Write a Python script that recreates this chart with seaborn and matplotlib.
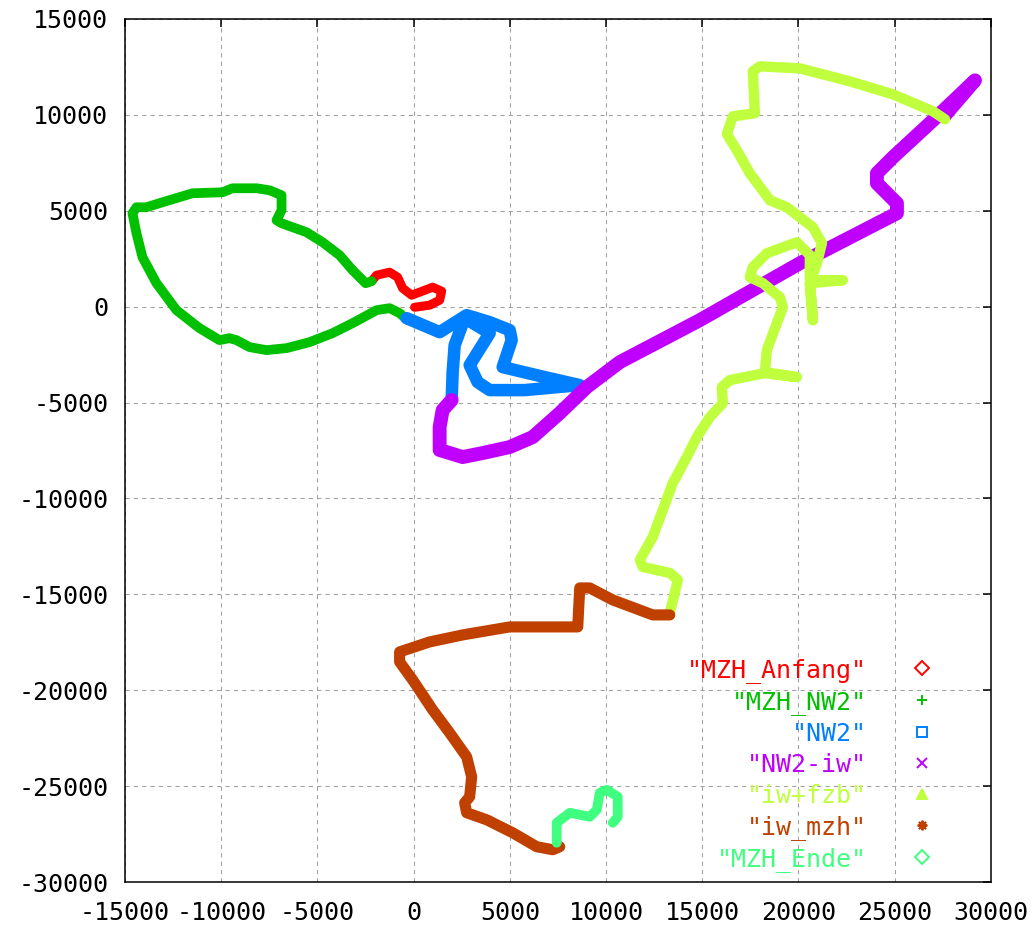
# Fahrtstrecke MZH -> NW2 -> iw -> fzb -> MZH, im Stil eines gnuplot-Plots
import numpy as np
import pandas as pd
import matplotlib
matplotlib.use("Agg")
import matplotlib.pyplot as plt
from matplotlib.lines import Line2D
import seaborn as sns

# Streckenabschnitte (x, y)
mzh_anfang_x = [50, 832, 1352, 1456, 988, 312, -104, -572, -832, -1248, -1924, -2184]
mzh_anfang_y = [-30, 78, 339, 808, 1016, 755, 599, 964, 1537, 1797, 1641, 1329]

mzh_nw2_x = [-2184, -2496, -3172, -3848, -4732, -5564, -6864, -7124, -6864, -6864,
             -7488, -8164, -9412, -9932, -11492, -13052, -13884, -14404, -14612,
             -14404, -14092, -13364, -12324, -11128, -10088, -9568, -9204, -8528,
             -7644, -6604, -5408, -4212, -3172, -1924, -1248, -728, -312]
mzh_nw2_y = [1329, 1224, 1902, 2683, 3360, 3881, 4350, 4507, 5028, 5809,
             6070, 6174, 6174, 5965, 5913, 5444, 5184, 5184, 4871,
             3829, 2579, 1224, -182, -1120, -1745, -1641, -1745, -2110,
             -2266, -2162, -1850, -1381, -860, -182, -78, -339, -703]

nw2_x = [-364, 1352, 2756, 3952, 4992, 5096, 4628, 6812, 8632, 5772,
         3952, 3328, 2912, 3952, 2652, 2132, 2028, 1976]
nw2_y = [-599, -1329, -443, -808, -1224, -1745, -3152, -3673, -4090, -4350,
         -4350, -3934, -3048, -1381, -599, -2006, -3412, -4871]

nw2_iw_x = [1976, 1508, 1352, 1352, 1872, 2548, 3588, 4992, 6188, 7592, 8996,
            10712, 14872, 20072, 25116, 25116, 24076, 24076, 24908, 26988,
            29172, 27612]
nw2_iw_y = [-4871, -5392, -6278, -7476, -7632, -7841, -7632, -7320, -6799,
            -5549, -4194, -2892, -703, 2266, 4871, 5392, 6434, 6955, 7789,
            9716, 11800, 9977]

iw_fzb_x = [27612, 26988, 24908, 22672, 20072, 17992, 17628, 17732, 16588,
            16276, 16796, 17472, 18512, 19396, 20748, 21216, 20956, 20592,
            20748, 20592, 22308, 20592, 20592, 19916, 18356, 17628, 17472,
            18148, 19032, 19188, 18876, 18356, 18252, 19916, 18252, 16432,
            16016, 16068, 15392, 14716, 14196, 13468, 12948, 12428, 11752,
            11908, 13312, 13728, 13572, 13312]
iw_fzb_y = [9769, 10186, 11071, 11749, 12426, 12530, 12270, 10082, 9925,
            9003, 8154, 6955, 5549, 5184, 4142, 3308, 2266, 1224,
            -703, 1224, 1381, 1381, 2683, 3360, 2787, 2058, 1537,
            1224, 495, -26, -860, -2266, -3412, -3673, -3465, -3829,
            -4194, -5028, -5757, -6799, -7841, -9195, -10602, -12009, -13207,
            -13572, -13884, -14249, -14926, -15968]

iw_mzh_x = [13312, 12428, 10348, 9152, 8632, 8528, 6916, 4992, 2548, 832,
            -728, -728, -52, 988, 1872, 2756, 3016, 2912, 2652, 2756, 3796,
            5148, 6396, 7228, 7592]
iw_mzh_y = [-16073, -16073, -15291, -14666, -14666, -16698, -16698, -16698,
            -17115, -17480, -18001, -18522, -19460, -21023, -22221, -23472,
            -24514, -25556, -25868, -26389, -26754, -27431, -28160, -28316,
            -28160]

mzh_ende_x = [7436, 7436, 8112, 9152, 9516, 9672, 10036, 10608, 10608, 10348]
mzh_ende_y = [-27952, -26910, -26389, -26597, -26233, -25348, -25191, -25556,
              -26597, -26910]

namen = ['"MZH_Anfang"', '"MZH_NW2"', '"NW2"', '"NW2-iw"', '"iw+fzb"',
         '"iw_mzh"', '"MZH_Ende"']
farben = ["#ff0000", "#00c000", "#0080ff", "#c000ff", "#c0ff3e", "#c04000",
          "#40ff80"]
marker = ["D", "+", "s", "x", "^", (8, 2, 0), "D"]
breite = [6.5, 7, 9, 10, 7.5, 8, 7]

abschnitte = [(mzh_anfang_x, mzh_anfang_y), (mzh_nw2_x, mzh_nw2_y),
              (nw2_x, nw2_y), (nw2_iw_x, nw2_iw_y), (iw_fzb_x, iw_fzb_y),
              (iw_mzh_x, iw_mzh_y), (mzh_ende_x, mzh_ende_y)]

sns.set_style("white")
plt.rcParams["font.family"] = ["DejaVu Sans Mono", "DejaVu Sans"]
plt.rcParams["axes.unicode_minus"] = False

fig = plt.figure(figsize=(10.32, 9.31), dpi=100)
ax = fig.add_axes([0.1211, 0.0526, 0.8391, 0.9270])

for (xs, ys), farbe, lw in zip(abschnitte, farben, breite):
    df = pd.DataFrame({"x": xs, "y": ys})
    sns.lineplot(data=df, x="x", y="y", sort=False, estimator=None,
                 errorbar=None, color=farbe, linewidth=lw, ax=ax,
                 solid_capstyle="round", solid_joinstyle="round")

ax.set_xlim(-15000, 30000)
ax.set_ylim(-30000, 15000)
ax.set_xticks(np.arange(-15000, 30001, 5000))
ax.set_yticks(np.arange(-30000, 15001, 5000))
ax.set_xlabel("")
ax.set_ylabel("")

ax.grid(True, color="#a0a0a0", linewidth=0.75, linestyle=(0, (4, 4)))
for s in ax.spines.values():
    s.set_color("black")
    s.set_linewidth(1.1)
ax.tick_params(axis="both", direction="in", length=6, width=1.1,
               top=True, right=True, labelsize=18, colors="black")
ax.tick_params(axis="x", pad=14)
ax.tick_params(axis="y", pad=12)

griffe = [Line2D([], [], linestyle="none", marker=m, color=c,
                 markerfacecolor=("none" if m in ("D", "s") else c),
                 markersize=7, markeredgewidth=1.4)
          for m, c in zip(marker, farben)]
ax.legend(griffe, namen, loc="lower right", bbox_to_anchor=(0.949, 0.012),
          markerfirst=False, frameon=False, fontsize=18, labelcolor=farben,
          handlelength=2.0, handletextpad=1.2, labelspacing=0.28,
          borderpad=0, borderaxespad=0)

fig.savefig("out.png", dpi=100)
